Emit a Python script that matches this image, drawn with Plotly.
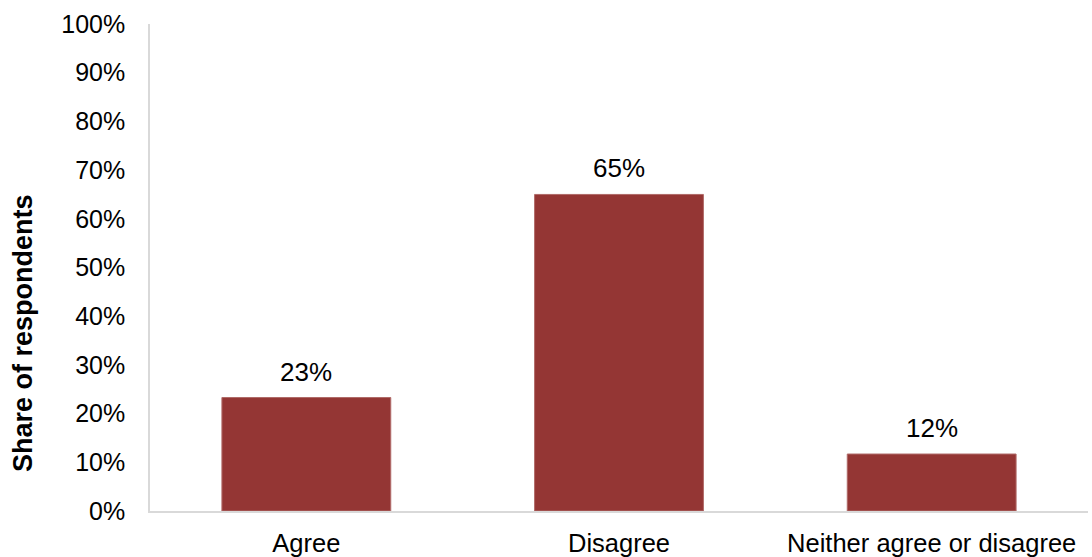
import plotly.graph_objects as go

categories = ["Agree", "Disagree", "Neither agree or disagree"]
values = [0.233, 0.650, 0.117]
labels = ["23%", "65%", "12%"]
tick_vals = [i / 10 for i in range(11)]
tick_text = [f"{i*10}%" for i in range(11)]

FONT = "Liberation Sans, Arial, sans-serif"

fig = go.Figure()
fig.add_trace(go.Bar(
    x=categories, y=values,
    marker=dict(color="#943634", line=dict(color="#b06a68", width=1)),
    hoverinfo="skip",
))
for c, v, t in zip(categories, values, labels):
    fig.add_annotation(x=c, y=v, text=t, showarrow=False, yanchor="bottom",
                       yshift=9, font=dict(family=FONT, size=26, color="#000000"))

fig.add_annotation(xref="paper", yref="paper", x=-0.1354, y=0.3655, text="<b>Share of respondents</b>",
                   textangle=-90, showarrow=False, xanchor="center", yanchor="middle",
                   font=dict(family=FONT, size=27, color="#000000"))

fig.update_layout(
    width=1092, height=557,
    margin=dict(l=150, r=4, t=24, b=46),
    paper_bgcolor="white", plot_bgcolor="white",
    bargap=0.46, showlegend=False,
    font=dict(family=FONT, size=25, color="#000000"),
)
fig.update_xaxes(showline=True, linecolor="#d9d9d9", linewidth=1.5, showgrid=False,
                 ticks="", tickfont=dict(size=25.5), ticklabelstandoff=9, automargin=False)
fig.update_yaxes(range=[0, 1], tickvals=tick_vals, ticktext=tick_text, showline=True,
                 linecolor="#d9d9d9", linewidth=1.5, showgrid=False, zeroline=False,
                 ticks="", tickfont=dict(size=25), ticklabelstandoff=18, automargin=False)

fig.write_html("out.html", config={"displayModeBar": False},
               post_script="document.body.style.margin='0';document.body.style.overflow='hidden';")
